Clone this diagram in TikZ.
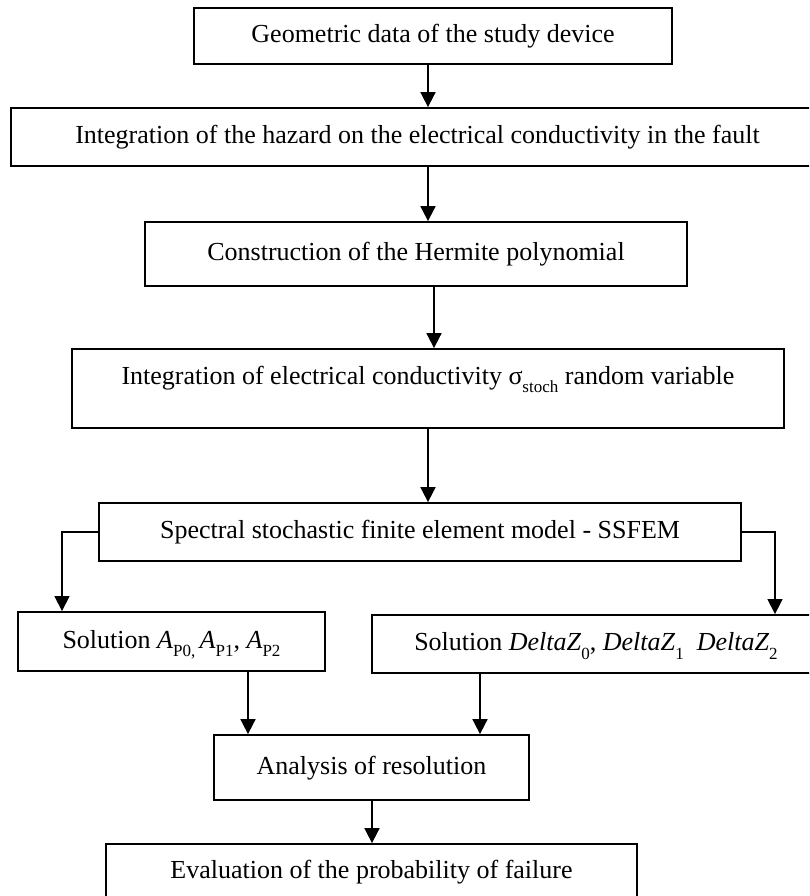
\documentclass[tikz,border=0pt]{standalone}
\usepackage{fontspec}
\setmainfont{Liberation Serif}
\usetikzlibrary{arrows.meta}
\newcommand\lowsub[1]{\raisebox{-0.33em}{\fontsize{17pt}{17pt}\selectfont #1}}
\tikzset{
  boxnode/.style={draw, line width=1.8pt, rectangle, inner sep=0pt, anchor=center,
    font=\fontsize{26pt}{30pt}\selectfont, text height=18pt, text depth=5pt},
  arr/.style={line width=1.8pt, -{Triangle[width=15pt,length=15pt]}},
  branch/.style={line width=1.3pt, -{Triangle[width=15pt,length=15pt]}}
}
\begin{document}
\begin{tikzpicture}[x=1pt, y=-1pt]
\useasboundingbox (0,0) rectangle (809,896);
\fill[white] (0,0) rectangle (809,896);
\clip (0,0) rectangle (809,896);

\node[boxnode, minimum width=478pt, minimum height=56pt] (b1) at (433,36) {Geometric data of the study device};
\node[boxnode, minimum width=813pt, minimum height=58pt] (b2) at (417.5,137) {Integration of the hazard on the electrical conductivity in the fault};
\node[boxnode, minimum width=542pt, minimum height=64pt] (b3) at (416,254) {Construction of the Hermite polynomial};
\node[boxnode, minimum width=712pt, minimum height=79pt, text depth=27pt] (b4) at (428,388.5) {Integration of electrical conductivity σ\lowsub{stoch} random variable};
\node[boxnode, minimum width=642pt, minimum height=58pt] (b5) at (420,532) {Spectral stochastic finite element model - SSFEM};
\node[boxnode, minimum width=307pt, minimum height=59pt] (b6) at (171.5,641.5) {Solution \textit{A}\lowsub{P0,}\,\textit{A}\lowsub{P1}, \textit{A}\lowsub{P2}};
\node[boxnode, minimum width=448pt, minimum height=58pt] (b7) at (596,644) {Solution \textit{DeltaZ}\lowsub{0}, \textit{DeltaZ}\lowsub{1}\ \ \textit{DeltaZ}\lowsub{2}};
\node[boxnode, minimum width=315pt, minimum height=65pt] (b8) at (371.5,767.5) {Analysis of resolution};
\node[boxnode, minimum width=531pt, minimum height=56pt] (b9) at (371.5,872) {Evaluation of the probability of failure};

\coordinate (xa) at (428,0);
\coordinate (xb) at (434,0);
\coordinate (xl) at (62,0);
\coordinate (xr) at (775,0);
\coordinate (xc) at (248,0);
\coordinate (xd) at (480,0);
\coordinate (xe) at (372,0);

\draw[arr] (xa |- b1.south) -- (xa |- b2.north);
\draw[arr] (xa |- b2.south) -- (xa |- b3.north);
\draw[arr] (xb |- b3.south) -- (xb |- b4.north);
\draw[arr] (xa |- b4.south) -- (xa |- b5.north);
\draw[branch] (b5.west) -| (xl |- b6.north);
\draw[branch] (b5.east) -| (xr |- b7.north);
\draw[arr] (xc |- b6.south) -- (xc |- b8.north);
\draw[arr] (xd |- b7.south) -- (xd |- b8.north);
\draw[arr] (xe |- b8.south) -- (xe |- b9.north);
\end{tikzpicture}
\end{document}
